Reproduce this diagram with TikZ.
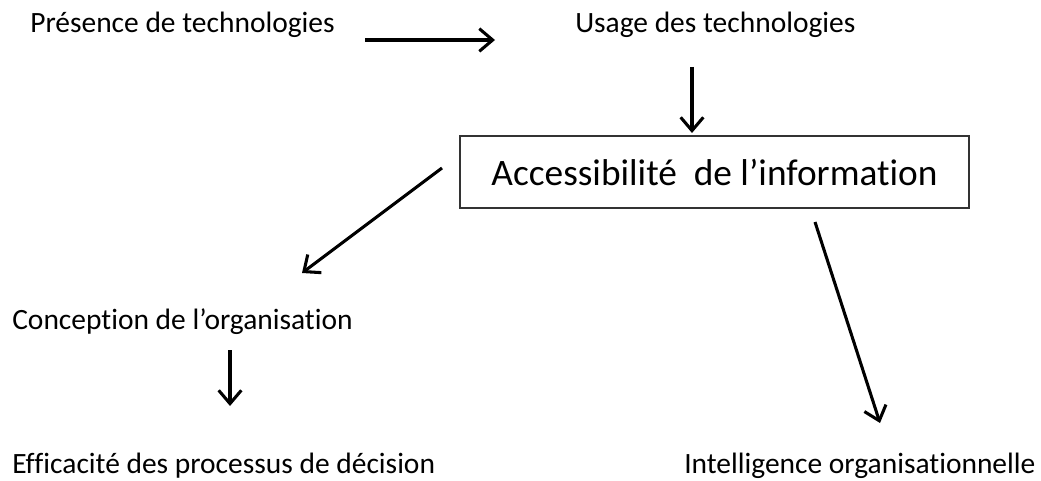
\documentclass[tikz,border=0pt]{standalone}
\usepackage{fontspec}
\setmainfont[Ligatures=NoCommon]{Carlito}
\usetikzlibrary{arrows.meta}
\tikzset{
  lbl/.style={anchor=base west, inner sep=0pt, font=\fontsize{22.1}{26}\selectfont},
  bigbox/.style={draw=black!80, line width=1.1pt, minimum width=381.75pt, minimum height=54pt, inner sep=0pt, font=\fontsize{28}{34}\selectfont},
  arr/.style={line width=2.3pt, -{Straight Barb[length=10pt, width=17pt, line width=2.3pt]}}
}
\begin{document}
\begin{tikzpicture}[x=0.75pt, y=-0.75pt]
\useasboundingbox (0,0) rectangle (1041,481);
\node[lbl] (pres) at (30,33) {Présence de technologies};
\node[lbl] (usage) at (575,33) {Usage des technologies};
\node[bigbox] (acc) at (714.5,172) {Accessibilité\ \ de l’information};
\node[lbl] (conc) at (12,329) {Conception de l’organisation};
\node[lbl] (eff) at (12,473) {Efficacité des processus de décision};
\node[lbl] (intel) at (684,473) {Intelligence organisationnelle};
\coordinate (a1s) at (365,40);
\coordinate (a1e) at (495,40);
\coordinate (a2s) at (692,67);
\coordinate (a2e) at (692,133);
\coordinate (a3s) at (442,168);
\coordinate (a3e) at (302,273);
\coordinate (a4s) at (230,350);
\coordinate (a4e) at (230,406);
\coordinate (a5s) at (815,222);
\coordinate (a5e) at (880,423);
\draw[arr] (a1s) -- (a1e);
\draw[arr] (a2s) -- (a2e);
\draw[arr] (a3s) -- (a3e);
\draw[arr] (a4s) -- (a4e);
\draw[arr] (a5s) -- (a5e);
\end{tikzpicture}
\end{document}
